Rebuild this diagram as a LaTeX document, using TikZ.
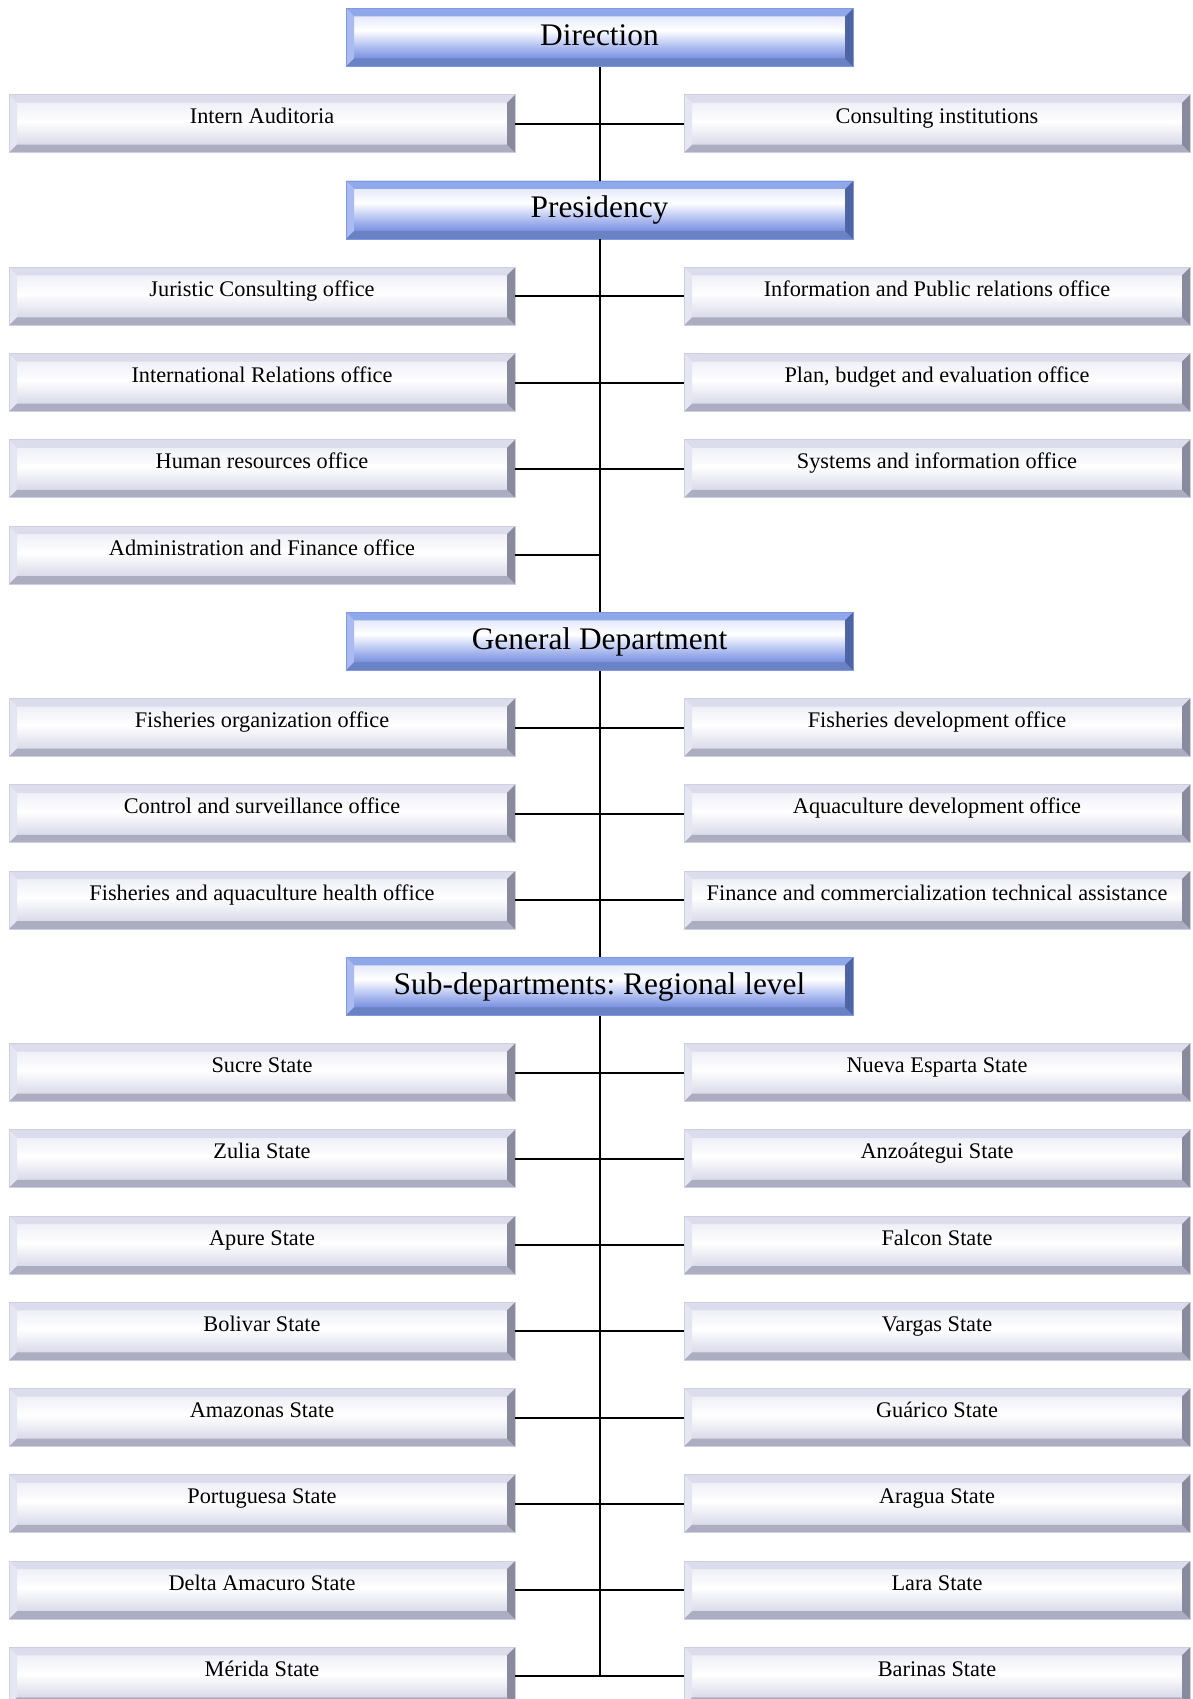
\documentclass[tikz,border=0pt]{standalone}
\usepackage{fontspec}
\setmainfont{Liberation Serif}
\frenchspacing

% bevel and face colours
\definecolor{tTop}{HTML}{8FA8EA}
\definecolor{tLeft}{HTML}{A9BBF1}
\definecolor{tBot}{HTML}{6A81C4}
\definecolor{tRight}{HTML}{4F64A2}
\definecolor{tEdge}{HTML}{7F98E4}
\definecolor{tfT}{HTML}{E4E9FA}
\definecolor{tfB}{HTML}{738CDE}
\definecolor{tfM}{HTML}{B3C1F1}
\definecolor{gTop}{HTML}{DCDCEC}
\definecolor{gLeft}{HTML}{E6E6F3}
\definecolor{gBot}{HTML}{ADADC1}
\definecolor{gRight}{HTML}{8A8A9D}
\definecolor{gEdge}{HTML}{CFCFE3}
\definecolor{gfT}{HTML}{EEEEF7}
\definecolor{gfB}{HTML}{D8D8E9}

% the path maps onto 25bp..75bp of a vertical shading
\pgfdeclareverticalshading{tface}{100bp}{color(0bp)=(tfB); color(31bp)=(tfB); color(43bp)=(tfM); color(56bp)=(white); color(69bp)=(tfT); color(100bp)=(tfT)}
\pgfdeclareverticalshading{gface}{100bp}{color(0bp)=(gfB); color(31bp)=(gfB); color(52bp)=(white); color(69bp)=(gfT); color(100bp)=(gfT)}

\tikzset{
  bevel/.style n args={4}{path picture={
    \fill[#1] (path picture bounding box.north west) -- (path picture bounding box.north east)
      -- ([xshift=-8pt,yshift=-8pt]path picture bounding box.north east)
      -- ([xshift=8pt,yshift=-8pt]path picture bounding box.north west) -- cycle;
    \fill[#2] (path picture bounding box.north west) -- (path picture bounding box.south west)
      -- ([xshift=8pt,yshift=8pt]path picture bounding box.south west)
      -- ([xshift=8pt,yshift=-8pt]path picture bounding box.north west) -- cycle;
    \fill[#3] (path picture bounding box.south west) -- (path picture bounding box.south east)
      -- ([xshift=-8pt,yshift=8pt]path picture bounding box.south east)
      -- ([xshift=8pt,yshift=8pt]path picture bounding box.south west) -- cycle;
    \fill[#4] (path picture bounding box.north east) -- (path picture bounding box.south east)
      -- ([xshift=-8pt,yshift=8pt]path picture bounding box.south east)
      -- ([xshift=-8pt,yshift=-8pt]path picture bounding box.north east) -- cycle;
  }},
  boxbase/.style={rectangle, minimum width=506pt, minimum height=58pt,
    inner xsep=0pt, inner ysep=0pt, line width=0.6pt},
  officebox/.style={boxbase, shade, shading=gface, draw=gEdge,
    font=\fontsize{22.3}{25}\selectfont, text height=29pt, text depth=29pt,
    bevel={gTop}{gLeft}{gBot}{gRight}},
  titlebox/.style={boxbase, minimum width=507pt, shade, shading=tface, draw=tEdge,
    font=\fontsize{31.4}{34}\selectfont, text height=37pt, text depth=21pt,
    bevel={tTop}{tLeft}{tBot}{tRight}},
  link/.style={line width=2pt, black},
}

\begin{document}
\begin{tikzpicture}[x=1pt, y=-1pt]
\useasboundingbox (0,0) rectangle (1193,1699);
\clip (0,0) rectangle (1193,1699);
\fill[white] (0,0) rectangle (1193,1699);

% level headings
\node[titlebox] (dir)  at (599.5,37.5)   {Direction};
\node[titlebox] (pres) at (599.5,210)    {Presidency};
\node[titlebox] (gen)  at (599.5,641.25) {General Department};
\node[titlebox] (sub)  at (599.5,986.25) {Sub-departments: Regional level};

% offices
\node[officebox] (l1)  at (262,123.75)  {Intern Auditoria};
\node[officebox] (r1)  at (937,123.75)  {Consulting institutions};
\node[officebox] (l3)  at (262,296.25)  {Juristic Consulting office};
\node[officebox] (r3)  at (937,296.25)  {Information and Public relations office};
\node[officebox] (l4)  at (262,382.5)   {International Relations office};
\node[officebox] (r4)  at (937,382.5)   {Plan, budget and evaluation office};
\node[officebox] (l5)  at (262,468.75)  {Human resources office};
\node[officebox] (r5)  at (937,468.75)  {Systems and information office};
\node[officebox] (l6)  at (262,555)     {Administration and Finance office};
\node[officebox] (l8)  at (262,727.5)   {Fisheries organization office};
\node[officebox] (r8)  at (937,727.5)   {Fisheries development office};
\node[officebox] (l9)  at (262,813.75)  {Control and surveillance office};
\node[officebox] (r9)  at (937,813.75)  {Aquaculture development office};
\node[officebox] (l10) at (262,900)     {Fisheries and aquaculture health office};
\node[officebox] (r10) at (937,900)     {Finance and commercialization technical assistance};

% states
\node[officebox] (l12) at (262,1072.5)  {Sucre State};
\node[officebox] (r12) at (937,1072.5)  {Nueva Esparta State};
\node[officebox] (l13) at (262,1158.75) {Zulia State};
\node[officebox] (r13) at (937,1158.75) {Anzoátegui State};
\node[officebox] (l14) at (262,1245)    {Apure State};
\node[officebox] (r14) at (937,1245)    {Falcon State};
\node[officebox] (l15) at (262,1331.25) {Bolivar State};
\node[officebox] (r15) at (937,1331.25) {Vargas State};
\node[officebox] (l16) at (262,1417.5)  {Amazonas State};
\node[officebox] (r16) at (937,1417.5)  {Guárico State};
\node[officebox] (l17) at (262,1503.75) {Portuguesa State};
\node[officebox] (r17) at (937,1503.75) {Aragua State};
\node[officebox] (l18) at (262,1590)    {Delta Amacuro State};
\node[officebox] (r18) at (937,1590)    {Lara State};
\node[officebox] (l19) at (262,1676.25) {Mérida State};
\node[officebox] (r19) at (937,1676.25) {Barinas State};

% main spine
\coordinate (spineend) at (sub.south |- l19.east);
\draw[link] (dir.south) -- (pres.north);
\draw[link] (pres.south) -- (gen.north);
\draw[link] (gen.south) -- (sub.north);
\draw[link] (sub.south) -- (spineend);

% branches
\foreach \n in {1,3,4,5,8,9,10,12,13,14,15,16,17,18,19}
  \draw[link] (l\n.east) -- (r\n.west);
\draw[link] (l6.east) -- (l6.east -| pres.south);
\end{tikzpicture}
\end{document}
